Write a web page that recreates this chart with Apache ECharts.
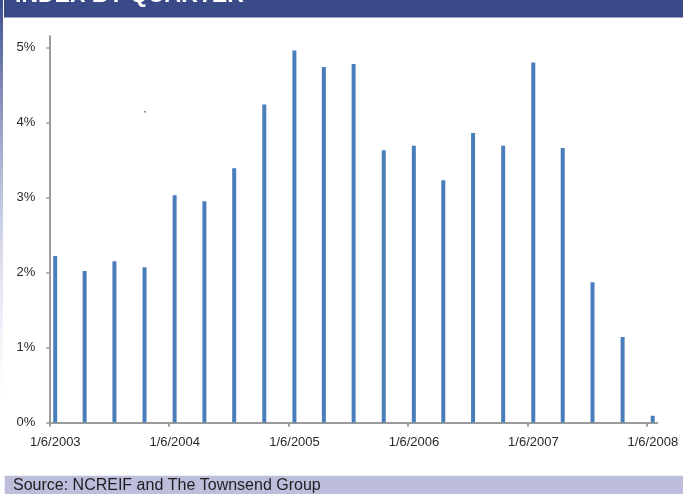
<!DOCTYPE html>
<html>
<head>
<meta charset="utf-8">
<style>
  html, body { margin: 0; padding: 0; background: #ffffff; }
  #chart { width: 683px; height: 494px; }
</style>
<script src="https://cdn.jsdelivr.net/npm/echarts@6/dist/echarts.min.js"></script>
</head>
<body>
<div id="chart"></div>
<script>
// Quarterly observation dates (YYYY-MM-DD)
const quarterDates = [
  '2003-01-24', '2003-04-24', '2003-07-24', '2003-10-24',
  '2004-01-24', '2004-04-24', '2004-07-24', '2004-10-24',
  '2005-01-24', '2005-04-24', '2005-07-24', '2005-10-24',
  '2006-01-24', '2006-04-24', '2006-07-24', '2006-10-24',
  '2007-01-24', '2007-04-24', '2007-07-24', '2007-10-24',
  '2008-01-24'
];

// Quarterly return, percent
const quarterlyReturn = [
  2.22, 2.02, 2.15, 2.07,
  3.03, 2.95, 3.39, 4.24,
  4.96, 4.74, 4.78, 3.63,
  3.69, 3.23, 3.86, 3.69,
  4.80, 3.66, 1.87, 1.14,
  0.09
];

// Axis tick dates and percent ticks
const xTickDates = ['2003-01-06', '2004-01-06', '2005-01-06', '2006-01-06', '2007-01-06', '2008-01-06'];
const yTicks = [0, 1, 2, 3, 4, 5];

const titleText = 'INDEX BY QUARTER';
const sourceText = 'Source: NCREIF and The Townsend Group';

function toTime(s) {
  const p = s.split('-').map(Number);
  return Date.UTC(p[0], p[1] - 1, p[2]);
}
function fmtDate(t) {
  const d = new Date(t);
  return (d.getUTCMonth() + 1) + '/' + d.getUTCDate() + '/' + d.getUTCFullYear();
}

const xTickValues = xTickDates.map(toTime);
const barData = quarterDates.map((d, i) => [toTime(d), quarterlyReturn[i]]);

const chart = echarts.init(document.getElementById('chart'), null, { renderer: 'canvas' });

const axisGray = '#9b9b9b';
const labelColor = '#2a2a2a';
const fontFam = '"Liberation Sans", Arial, Helvetica, sans-serif';

chart.setOption({
  animation: false,
  backgroundColor: '#ffffff',
  grid: { left: 49.3, right: 25.7, top: 36.25, bottom: 71.5, containLabel: false },
  xAxis: {
    type: 'value',
    min: toTime('2003-01-06'),
    max: toTime('2008-02-07'),
    splitLine: { show: false },
    axisLine: { show: true, lineStyle: { color: axisGray, width: 2 } },
    axisTick: {
      show: true, length: 4, inside: false,
      customValues: xTickValues,
      lineStyle: { color: axisGray, width: 2 }
    },
    axisLabel: {
      show: true,
      customValues: xTickValues,
      formatter: v => fmtDate(v),
      color: labelColor,
      fontFamily: fontFam,
      fontSize: 13,
      margin: 13,
      padding: [0, 0, 0, 12]
    }
  },
  yAxis: {
    type: 'value',
    min: 0,
    max: 5.15,
    splitLine: { show: false },
    axisLine: { show: true, lineStyle: { color: axisGray, width: 2 } },
    axisTick: {
      show: true, length: 3, inside: false,
      customValues: yTicks,
      lineStyle: { color: axisGray, width: 1.5 }
    },
    axisLabel: {
      show: true,
      customValues: yTicks,
      formatter: v => v + '%',
      color: labelColor,
      fontFamily: fontFam,
      fontSize: 13,
      margin: 14
    }
  },
  series: [{
    type: 'bar',
    data: barData,
    barWidth: 4,
    itemStyle: { color: '#4a7ebb' },
    silent: true
  }],
  graphic: [
    // left edge accent strip
    {
      type: 'rect', silent: true, z: 1,
      shape: { x: 0, y: 0, width: 3, height: 400 },
      style: {
        fill: new echarts.graphic.LinearGradient(0, 0, 0, 1, [
          { offset: 0, color: '#3b4b8c' },
          { offset: 1, color: 'rgba(200,205,235,0)' }
        ])
      }
    },
    // header band
    {
      type: 'rect', silent: true, z: 2,
      shape: { x: 4, y: 0, width: 679, height: 17.5 },
      style: { fill: '#3a4a89' }
    },
    {
      type: 'text', silent: true, z: 3,
      x: 15, y: 7,
      style: {
        text: titleText,
        fill: '#ffffff',
        font: 'bold 23px ' + fontFam,
        textAlign: 'left',
        textVerticalAlign: 'bottom'
      }
    },
    // footer band
    {
      type: 'rect', silent: true, z: 2,
      shape: { x: 4.7, y: 475.7, width: 679, height: 19 },
      style: { fill: '#bdbedc' }
    },
    {
      type: 'text', silent: true, z: 3,
      x: 13, y: 485.5,
      style: {
        text: sourceText,
        fill: '#1e1e1e',
        font: '16px ' + fontFam,
        textAlign: 'left',
        textVerticalAlign: 'middle'
      }
    },
    // small stray mark in the plot
    {
      type: 'rect', silent: true, z: 3,
      shape: { x: 144, y: 111, width: 2, height: 1.5 },
      style: { fill: '#7b879f' }
    }
  ]
});
</script>
</body>
</html>
